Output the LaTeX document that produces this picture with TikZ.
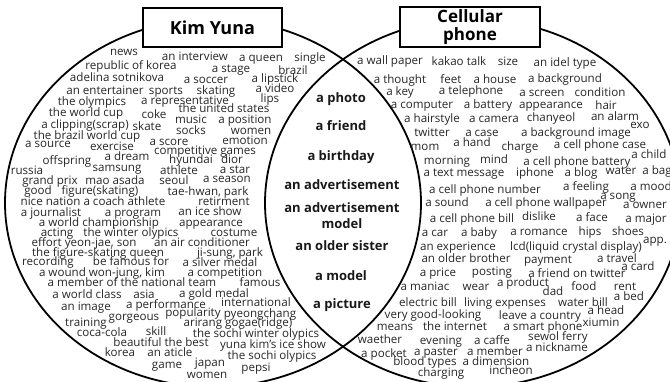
\documentclass[tikz,border=0pt]{standalone}
\usepackage{fontspec}
\setmainfont{Open Sans}
\begin{document}
\begin{tikzpicture}[x=1pt,y=-1pt,
  word/.style={anchor=base, yshift=-3.4pt, inner sep=0pt,
    font=\fontsize{11.6}{12}\selectfont, text=black!85},
  shared/.style={anchor=base, yshift=-3.8pt, inner sep=0pt, align=center,
    font=\bfseries\fontsize{13}{16}\selectfont, text=black!90},
  titlebox/.style={draw, line width=1.8pt, fill=white, inner sep=0pt,
    align=center},
  setline/.style={line width=1.8pt}]
\useasboundingbox (0,0) rectangle (670,381);
\clip (0,0) rectangle (670,381);

% the two sets
\draw[setline] (213,203) ellipse [x radius=208pt, y radius=184pt];
\draw[setline] (473,203) ellipse [x radius=208pt, y radius=184pt];

% words of the first set
\foreach \px/\py/\t [count=\i] in {
 124/52/news, 195/57/an interview, 261/58/a queen, 310/58/single,
 131/66/republic of korea, 231/69/a stage, 293/71/brazil,
 117/78/adelina sotnikova, 206/80/a soccer, 275/79/a lipstick,
 105/91/an entertainer, 166/91/sports, 216/91/skating, 275/89/a video,
 92/102/the olympics, 185/101/a representative, 270/99/lips,
 86/113/the world cup, 154/115/coke, 224/109/the united states,
 85/125/a clipping(scrap), 147/127/skate, 191/120/music, 245/120/a position,
 87/136/the brazil world cup, 191/131/socks, 251/131/women,
 48/144/a source, 112/147/exercise, 169/142/a score, 245/141/emotion,
 67/161/offspring, 127/157/a dream, 205/151/competitive games,
 27/171/russia, 117/168/samsung, 191/160/hyundai, 232/160/dior,
 179/171/athlete, 235/170/a star,
 50/181/grand prix, 115/181/mao asada, 174/181/seoul, 227/179/a season,
 38/191/good, 100/191/figure(skating), 208/192/{tae-hwan, park},
 93/202/nice nation a coach athlete, 224/202/retirment,
 51/213/a journalist, 133/213/a program, 210/212/an ice show,
 99/223/a world championship, 211/223/appearance,
 57/233/acting, 131/233/the winter olypics, 234/233/costume,
 84/243/{effort yeon-jae, son}, 202/243/an air conditioner,
 98/253/the figure-skating queen, 230/253/{ji-sung, park},
 48/262/recording, 131/262/be famous for, 220/263/a silver medal,
 102/273/{a wound won-jung, kim}, 225/273/a competition,
 132/283/a member of the national team, 260/283/famous,
 87/295/a world class, 144/295/asia, 214/294/a gold medal,
 86/307/an image, 166/305/a performance, 256/303/international,
 86/323/training, 134/317/gorgeous, 193/313/popularity, 260/314/pyeongchang,
 102/333/coca-cola, 156/332/skill, 238/323/arirang gogae(ridge),
 256/334/the sochi winter olypics,
 161/343/beautiful the best, 273/345/yuna kim's ice show,
 120/353/korea, 170/353/an aticle, 272/356/the sochi olypics,
 167/365/game, 210/363/japan, 256/368/pepsi, 207/375/women}
  \node[word] (kw\i) at (\px,\py) {\t};

% words of the second set
\foreach \px/\py/\t [count=\i] in {
 390/61/a wall paper, 459/62/kakao talk, 508/62/size, 565/63/an idel type,
 400/80/a thought, 451/80/feet, 495/80/a house, 565/79/a background,
 400/92/a key, 471/91/a telephone, 542/93/a screen, 600/93/condition,
 422/105/a computer, 488/105/a battery, 551/105/appearance, 606/106/hair,
 432/119/a hairstyle, 494/119/a camera, 551/118/chanyeol, 615/117/an alarm,
 640/125/exo,
 432/133/twitter, 482/133/a case, 576/133/a background image,
 425/147/mom, 472/143/a hand, 520/147/charge, 600/145/a cell phone case,
 447/161/morning, 494/160/mind, 577/162/a cell phone battery, 649/155/a child,
 464/173/a text message, 535/173/iphone, 581/173/a blog, 621/171/water,
 657/171/a bag,
 485/190/a cell phone number, 586/187/a feeling, 651/187/a mood,
 618/196/a song,
 447/203/a sound, 546/203/a cell phone wallpaper, 645/205/a owner,
 472/219/a cell phone bill, 539/217/dislike, 592/218/a face, 646/219/a major,
 435/233/a car, 479/233/a baby, 539/232/a romance, 590/232/hips,
 628/232/shoes, 655/240/app.,
 458/247/an experience, 576/247/lcd(liquid crystal display),
 466/259/an older brother, 548/260/payment, 617/259/a travel,
 638/267/a card,
 438/273/a price, 492/272/posting, 577/274/a friend on twitter,
 425/287/a maniac, 476/287/wear, 523/283/a product, 553/292/dad,
 584/287/food, 625/287/rent,
 428/303/electric bill, 505/303/living expenses, 583/303/water bill,
 629/297/a bed,
 433/315/very good-looking, 540/316/leave a country, 606/311/a head,
 395/327/means, 455/327/the internet, 543/327/a smart phone, 601/323/xiumin,
 380/340/waether, 441/341/evening, 492/341/a caffe, 558/337/sewol ferry,
 384/354/a pocket, 436/352/a paster, 495/352/a member, 557/348/a nickname,
 425/362/blood types, 496/362/a dimension,
 441/373/charging, 511/371/incheon}
  \node[word] (cp\i) at (\px,\py) {\t};

% words shared by both sets (a multi-line node sits on its last baseline)
\node[shared] (s1) at (341,99)  {a photo};
\node[shared] (s2) at (341,127) {a friend};
\node[shared] (s3) at (341,157) {a birthday};
\node[shared] (s4) at (342,186) {an advertisement};
\node[shared] (s5) at (342,225) {an advertisement\\model};
\node[shared] (s6) at (342,247) {an older sister};
\node[shared] (s7) at (341,277) {a model};
\node[shared] (s8) at (342,305) {a picture};

% set titles
\node[titlebox, minimum width=139pt, minimum height=39pt,
  font=\bfseries\fontsize{18}{18}\selectfont] (kim) at (212.5,27.5) {Kim Yuna};
\node[titlebox, minimum width=140pt, minimum height=40pt,
  font=\bfseries\fontsize{17}{18}\selectfont] (cell) at (470,27) {Cellular\\phone};
\end{tikzpicture}
\end{document}
